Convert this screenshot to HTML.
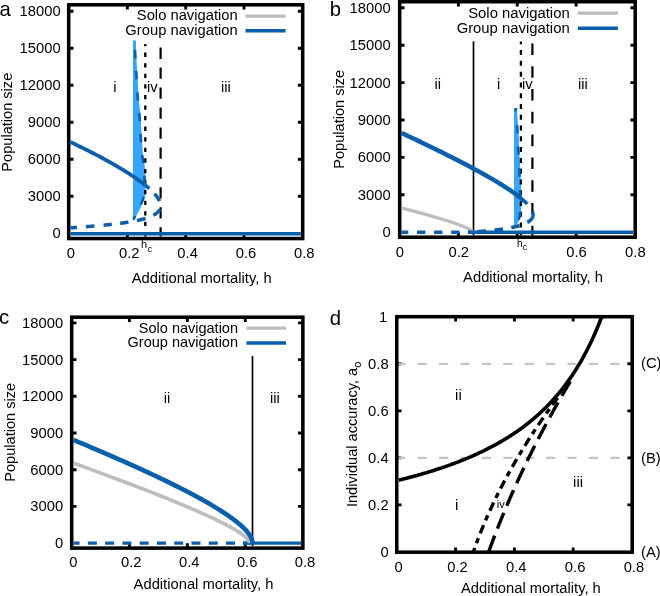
<!DOCTYPE html>
<html><head><meta charset="utf-8"><style>
html,body{margin:0;padding:0;background:#fff;}
svg{display:block;}
text{-webkit-font-smoothing:antialiased;}
text{font-family:"Liberation Sans",sans-serif;fill:#000;}
</style></head><body>
<svg width="660" height="596" viewBox="0 0 660 596" style="will-change:transform">
<rect width="660" height="596" fill="#fff"/>
<rect x="68.70" y="4.80" width="234.00" height="233.75" fill="none" stroke="#000" stroke-width="3.55"/>
<path d="M127.35,238.55 v-4.8 M127.35,4.80 v4.8 M185.70,238.55 v-4.8 M185.70,4.80 v4.8 M244.05,238.55 v-4.8 M244.05,4.80 v4.8 M68.70,196.30 h4.8 M302.70,196.30 h-4.8 M68.70,159.30 h4.8 M302.70,159.30 h-4.8 M68.70,122.30 h4.8 M302.70,122.30 h-4.8 M68.70,85.30 h4.8 M302.70,85.30 h-4.8 M68.70,48.30 h4.8 M302.70,48.30 h-4.8 M68.70,11.30 h4.8 M302.70,11.30 h-4.8 " stroke="#000" stroke-width="2.9" fill="none"/>
<text x="-0.50" y="16.40" font-size="20.3" text-anchor="start" >a</text>
<text x="60.60" y="238.39" font-size="14.75" text-anchor="end" >0</text>
<text x="60.60" y="201.39" font-size="14.75" text-anchor="end" >3000</text>
<text x="60.60" y="164.39" font-size="14.75" text-anchor="end" >6000</text>
<text x="60.60" y="127.39" font-size="14.75" text-anchor="end" >9000</text>
<text x="60.60" y="90.39" font-size="14.75" text-anchor="end" >12000</text>
<text x="60.60" y="53.39" font-size="14.75" text-anchor="end" >15000</text>
<text x="60.60" y="16.39" font-size="14.75" text-anchor="end" >18000</text>
<text x="70.90" y="257.70" font-size="14.75" text-anchor="middle" >0</text>
<text x="129.25" y="257.70" font-size="14.75" text-anchor="middle" >0.2</text>
<text x="187.60" y="257.70" font-size="14.75" text-anchor="middle" >0.4</text>
<text x="245.95" y="257.70" font-size="14.75" text-anchor="middle" >0.6</text>
<text x="304.30" y="257.70" font-size="14.75" text-anchor="middle" >0.8</text>
<text transform="translate(12.2,171.7) rotate(-90)" font-size="14.6">Population size</text>
<text x="131.70" y="282.90" font-size="14.75" text-anchor="start" >Additional mortality, h</text>
<path d="M133.0,40.5 L136.00,40.50 C136.03,42.75 135.97,48.25 136.20,54.00 C136.43,59.75 136.95,67.33 137.40,75.00 C137.85,82.67 138.35,92.75 138.90,100.00 C139.45,107.25 140.08,110.17 140.70,118.50 C141.32,126.83 141.95,142.25 142.60,150.00 C143.25,157.75 144.12,160.33 144.60,165.00 C145.08,169.67 145.35,173.83 145.50,178.00 C145.65,182.17 145.68,186.67 145.50,190.00 C145.32,193.33 145.05,195.47 144.40,198.00 C143.75,200.53 142.90,202.32 141.60,205.20 C140.30,208.08 137.93,212.70 136.60,215.30 C135.27,217.90 134.10,219.88 133.60,220.80 L133.0,220.8 Z" fill="#36a5fc"/>
<path d="M145.3,44 V236.5" stroke="#000" stroke-width="2.3" stroke-dasharray="4.3 6.275" stroke-dashoffset="2"/>
<path d="M160.6,47.6 V236.5" stroke="#000" stroke-width="2.2" stroke-dasharray="11.3 8.66"/>
<path d="M70.5,233.8 H300.9" stroke="#0a5fad" stroke-width="3.6"/>
<path d="M70.30,141.96 L72.09,142.81 L73.87,143.65 L75.62,144.50 L77.36,145.34 L79.08,146.18 L80.78,147.01 L82.47,147.84 L84.13,148.67 L85.78,149.49 L87.41,150.31 L89.02,151.12 L90.62,151.93 L92.20,152.74 L93.75,153.55 L95.29,154.35 L96.82,155.14 L98.32,155.93 L99.81,156.72 L101.28,157.51 L102.73,158.29 L104.16,159.06 L105.58,159.83 L106.97,160.60 L108.35,161.36 L109.71,162.12 L111.06,162.88 L112.38,163.63 L113.69,164.37 L114.98,165.12 L116.25,165.85 L117.50,166.59 L118.74,167.32 L119.95,168.04 L121.15,168.76 L122.33,169.48 L123.50,170.19 L124.64,170.89 L125.77,171.59 L126.88,172.29 L127.97,172.98 L129.05,173.67 L130.10,174.36 L131.14,175.03 L132.16,175.71 L133.16,176.38 L134.14,177.04 L135.11,177.70 L136.06,178.36 L136.99,179.01 L137.90,179.65 L138.79,180.29 L139.67,180.93 L140.53,181.56 L141.37,182.18 L142.19,182.80 L143.00,183.42 L143.78,184.03 L144.55,184.64 L145.30,185.24" stroke="#0a5fad" stroke-width="3.8" fill="none"/>
<path d="M145.30,185.24 L145.82,185.66 L146.34,186.09 L146.84,186.51 L147.34,186.92 L147.82,187.34 L148.30,187.75 L148.77,188.16 L149.23,188.57 L149.67,188.97 L150.12,189.37 L150.55,189.77 L150.97,190.17 L151.38,190.56 L151.79,190.96 L152.18,191.35 L152.57,191.73 L152.95,192.12 L153.31,192.50 L153.67,192.88 L154.02,193.26 L154.36,193.63 L154.70,194.00 L155.02,194.37 L155.33,194.74 L155.64,195.10 L155.93,195.47 L156.22,195.82 L156.50,196.18 L156.77,196.54 L157.02,196.89 L157.27,197.24 L157.52,197.58 L157.75,197.93 L157.97,198.27 L158.18,198.61 L158.39,198.95 L158.59,199.28 L158.77,199.61 L158.95,199.94 L159.12,200.27 L159.28,200.60 L159.43,200.92 L159.57,201.24 L159.70,201.55 L159.82,201.87 L159.94,202.18 L160.04,202.49 L160.14,202.80 L160.23,203.10 L160.30,203.41 L160.37,203.71 L160.43,204.00 L160.48,204.30 L160.52,204.59 L160.56,204.88 L160.58,205.17 L160.59,205.46 L160.60,205.74 L160.60,206.02 L160.58,206.30 L160.56,206.58 L160.53,206.85 L160.49,207.12 L160.44,207.39 L160.38,207.66 L160.31,207.92 L160.24,208.19 L160.15,208.45 L160.06,208.70 L159.95,208.96 L159.84,209.21 L159.72,209.46 L159.59,209.71 L159.45,209.96 L159.30,210.20 L159.14,210.44 L158.97,210.68 L158.80,210.92 L158.61,211.16 L158.42,211.39 L158.22,211.62 L158.00,211.85 L157.78,212.08 L157.55,212.30 L157.31,212.52 L157.06,212.74 L156.80,212.96 L156.54,213.18 L156.26,213.39 L155.98,213.60 L155.68,213.81 L155.38,214.02 L155.07,214.23 L154.74,214.43 L154.41,214.63 L154.07,214.83 L153.73,215.03 L153.37,215.22 L153.00,215.42 L152.63,215.61 L152.24,215.80 L151.85,215.99 L151.44,216.17 L151.03,216.35 L150.61,216.54 L150.18,216.72 L149.74,216.90 L149.29,217.07 L148.83,217.25 L148.37,217.42 L147.89,217.59 L147.41,217.76 L146.91,217.93 L146.41,218.09 L145.90,218.26 L145.38,218.42 L144.85,218.58 L144.31,218.74 L143.76,218.89 L143.20,219.05 L142.64,219.20 L142.06,219.36 L141.48,219.51 L140.88,219.66 L140.28,219.80 L139.67,219.95 L139.05,220.09 L138.42,220.24 L137.78,220.38 L137.13,220.52 L136.47,220.66 L135.81,220.79 L135.13,220.93 L134.45,221.06 L133.75,221.20 L133.05,221.33 L132.34,221.46 L131.62,221.59 L130.89,221.71 L130.15,221.84 L129.40,221.97 L128.65,222.09 L127.88,222.21 L127.10,222.33 L126.32,222.45 L125.53,222.57 L124.72,222.69 L123.91,222.81 L123.09,222.92 L122.26,223.04 L121.42,223.15 L120.58,223.26 L119.72,223.38 L118.85,223.49 L117.98,223.60 L117.09,223.70 L116.20,223.81 L115.30,223.92 L114.39,224.02 L113.47,224.13 L112.54,224.23 L111.60,224.34 L110.65,224.44 L109.70,224.54 L108.73,224.64 L107.76,224.74 L106.77,224.84 L105.78,224.94 L104.78,225.04 L103.77,225.14 L102.75,225.24 L101.72,225.33 L100.68,225.43 L99.63,225.53 L98.58,225.62 L97.51,225.72 L96.44,225.81 L95.35,225.91 L94.26,226.00 L93.16,226.09 L92.05,226.19 L90.93,226.28 L89.80,226.37 L88.66,226.46 L87.51,226.56 L86.36,226.65 L85.19,226.74 L84.02,226.83 L82.83,226.92 L81.64,227.02 L80.44,227.11 L79.23,227.20 L78.01,227.29 L76.78,227.38 L75.54,227.47 L74.30,227.57 L73.04,227.66 L71.77,227.75 L70.50,227.84" stroke="#0a5fad" stroke-width="3.5" fill="none" stroke-dasharray="5.3 7.4 8.8 8.3 9.1 8.4 8.9 8.6 8.4 8.4 8.3 9.2 8.4 9 9 100"/>
<path d="M135.00,40.50 C135.03,42.75 134.97,48.25 135.20,54.00 C135.43,59.75 135.95,67.33 136.40,75.00 C136.85,82.67 137.35,92.75 137.90,100.00 C138.45,107.25 139.08,110.17 139.70,118.50 C140.32,126.83 140.95,142.25 141.60,150.00 C142.25,157.75 143.12,160.33 143.60,165.00 C144.08,169.67 144.35,173.83 144.50,178.00 C144.65,182.17 144.68,186.67 144.50,190.00 C144.32,193.33 144.02,195.58 143.40,198.00 C142.78,200.42 142.03,201.75 140.80,204.50 C139.57,207.25 137.23,212.00 136.00,214.50 C134.77,217.00 133.83,218.67 133.40,219.50" stroke="#0a5fad" stroke-width="2.6" fill="none" stroke-dasharray="8.5 12.5" stroke-dashoffset="11.4"/>
<text x="237.70" y="20.40" font-size="14.75" text-anchor="end" >Solo navigation</text>
<text x="237.70" y="35.30" font-size="14.75" text-anchor="end" >Group navigation</text>
<path d="M245.5,16.1 H285.6" stroke="#bdbdbd" stroke-width="3.3"/>
<path d="M245.5,30.8 H285.6" stroke="#0a5fad" stroke-width="3.5"/>
<text x="113.20" y="91.60" font-size="14.75" text-anchor="start" >i</text>
<text x="146.90" y="91.70" font-size="14.75" text-anchor="start" >iv</text>
<text x="221.00" y="91.70" font-size="14.75" text-anchor="start" >iii</text>
<text x="141.10" y="247.80" font-size="11" text-anchor="start" >h</text>
<text x="147.70" y="251.70" font-size="8.5" text-anchor="start" >c</text>
<rect x="399.70" y="1.70" width="235.50" height="235.50" fill="none" stroke="#000" stroke-width="3.55"/>
<path d="M458.40,237.20 v-4.8 M458.40,1.70 v4.8 M517.25,237.20 v-4.8 M517.25,1.70 v4.8 M576.10,237.20 v-4.8 M576.10,1.70 v4.8 M399.70,194.72 h4.8 M635.20,194.72 h-4.8 M399.70,157.34 h4.8 M635.20,157.34 h-4.8 M399.70,119.96 h4.8 M635.20,119.96 h-4.8 M399.70,82.58 h4.8 M635.20,82.58 h-4.8 M399.70,45.20 h4.8 M635.20,45.20 h-4.8 M399.70,7.82 h4.8 M635.20,7.82 h-4.8 " stroke="#000" stroke-width="2.9" fill="none"/>
<text x="329.80" y="16.40" font-size="20.3" text-anchor="start" >b</text>
<text x="390.60" y="237.19" font-size="14.75" text-anchor="end" >0</text>
<text x="390.60" y="199.81" font-size="14.75" text-anchor="end" >3000</text>
<text x="390.60" y="162.43" font-size="14.75" text-anchor="end" >6000</text>
<text x="390.60" y="125.05" font-size="14.75" text-anchor="end" >9000</text>
<text x="390.60" y="87.67" font-size="14.75" text-anchor="end" >12000</text>
<text x="390.60" y="50.29" font-size="14.75" text-anchor="end" >15000</text>
<text x="390.60" y="12.91" font-size="14.75" text-anchor="end" >18000</text>
<text x="399.95" y="256.80" font-size="14.75" text-anchor="middle" >0</text>
<text x="458.80" y="256.80" font-size="14.75" text-anchor="middle" >0.2</text>
<text x="576.50" y="256.80" font-size="14.75" text-anchor="middle" >0.6</text>
<text x="635.35" y="256.80" font-size="14.75" text-anchor="middle" >0.8</text>
<text transform="translate(343.7,168.8) rotate(-90)" font-size="14.6">Population size</text>
<text x="463.10" y="281.80" font-size="14.75" text-anchor="start" >Additional mortality, h</text>
<path d="M514.0,108.0 L516.80,108.00 C517.10,112.17 518.18,126.00 518.60,133.00 C519.02,140.00 518.93,142.17 519.30,150.00 C519.67,157.83 520.50,170.83 520.80,180.00 C521.10,189.17 521.08,199.17 521.10,205.00 C521.12,210.83 521.20,212.50 520.90,215.00 C520.60,217.50 519.98,218.43 519.30,220.00 C518.62,221.57 517.52,223.53 516.80,224.40 C516.08,225.27 515.30,225.07 515.00,225.20 L514.0,225.2 Z" fill="#36a5fc"/>
<path d="M473.5,41.3 V235.5" stroke="#000" stroke-width="1.7"/>
<path d="M520.9,41.6 V235.5" stroke="#000" stroke-width="2.3" stroke-dasharray="5 5.78" stroke-dashoffset="2.3"/>
<path d="M532.4,43.4 V235.5" stroke="#000" stroke-width="2.2" stroke-dasharray="11.6 11.2"/>
<path d="M401.50,207.92 L402.71,208.23 L403.92,208.55 L405.14,208.87 L406.35,209.19 L407.56,209.51 L408.77,209.83 L409.98,210.15 L411.19,210.47 L412.41,210.79 L413.62,211.12 L414.83,211.44 L416.04,211.77 L417.25,212.10 L418.47,212.43 L419.68,212.76 L420.89,213.09 L422.10,213.42 L423.31,213.76 L424.53,214.10 L425.74,214.43 L426.95,214.77 L428.16,215.11 L429.37,215.46 L430.58,215.80 L431.80,216.15 L433.01,216.50 L434.22,216.85 L435.43,217.20 L436.64,217.56 L437.86,217.91 L439.07,218.27 L440.28,218.64 L441.49,219.00 L442.70,219.37 L443.92,219.74 L445.13,220.12 L446.34,220.49 L447.55,220.88 L448.76,221.26 L449.97,221.65 L451.19,222.05 L452.40,222.45 L453.61,222.86 L454.82,223.27 L456.03,223.69 L457.25,224.11 L458.46,224.55 L459.67,224.99 L460.88,225.45 L462.09,225.91 L463.31,226.40 L464.52,226.90 L465.73,227.42 L466.94,227.96 L468.15,228.55 L469.36,229.18 L470.58,229.89 L471.79,230.76 L473.00,232.54" stroke="#bdbdbd" stroke-width="3.3" fill="none"/>
<path d="M401.5,232.2 H470" stroke="#0a5fad" stroke-width="3.4" stroke-dasharray="8.4 8.67" stroke-dashoffset="1.57"/>
<path d="M468,232.2 H633.4" stroke="#0a5fad" stroke-width="3.4"/>
<path d="M401.50,132.96 L403.81,134.04 L406.10,135.11 L408.37,136.17 L410.61,137.23 L412.84,138.29 L415.05,139.33 L417.23,140.37 L419.40,141.40 L421.55,142.43 L423.67,143.45 L425.77,144.46 L427.86,145.47 L429.92,146.47 L431.97,147.47 L433.99,148.45 L435.99,149.43 L437.97,150.41 L439.93,151.38 L441.87,152.34 L443.79,153.29 L445.69,154.24 L447.57,155.18 L449.43,156.12 L451.27,157.05 L453.09,157.97 L454.89,158.88 L456.67,159.79 L458.42,160.70 L460.16,161.59 L461.87,162.48 L463.57,163.36 L465.24,164.24 L466.90,165.11 L468.53,165.97 L470.15,166.83 L471.74,167.68 L473.31,168.52 L474.87,169.36 L476.40,170.19 L477.91,171.02 L479.40,171.83 L480.87,172.64 L482.32,173.45 L483.75,174.25 L485.16,175.04 L486.55,175.82 L487.92,176.60 L489.26,177.38 L490.59,178.14 L491.90,178.90 L493.18,179.66 L494.45,180.40 L495.70,181.14 L496.92,181.88 L498.13,182.61 L499.31,183.33 L500.47,184.04 L501.62,184.75 L502.74,185.45 L503.84,186.15 L504.92,186.84 L505.98,187.52 L507.03,188.20 L508.05,188.87 L509.05,189.54 L510.03,190.20 L510.99,190.85 L511.92,191.50 L512.84,192.14 L513.74,192.77 L514.62,193.40 L515.47,194.02 L516.31,194.64 L517.13,195.25 L517.92,195.85 L518.70,196.45 L519.45,197.04 L520.19,197.63 L520.90,198.21" stroke="#0a5fad" stroke-width="4.5" fill="none"/>
<path d="M520.90,198.21 L521.29,198.53 L521.67,198.84 L522.04,199.16 L522.41,199.47 L522.77,199.78 L523.13,200.09 L523.48,200.40 L523.82,200.71 L524.16,201.01 L524.49,201.31 L524.81,201.61 L525.13,201.91 L525.44,202.21 L525.75,202.51 L526.04,202.80 L526.34,203.09 L526.62,203.38 L526.90,203.67 L527.18,203.96 L527.44,204.24 L527.71,204.52 L527.96,204.81 L528.21,205.09 L528.45,205.36 L528.69,205.64 L528.92,205.91 L529.14,206.19 L529.36,206.46 L529.57,206.73 L529.77,206.99 L529.97,207.26 L530.16,207.52 L530.35,207.78 L530.53,208.05 L530.70,208.30 L530.87,208.56 L531.03,208.82 L531.18,209.07 L531.33,209.32 L531.47,209.57 L531.61,209.82 L531.74,210.07 L531.86,210.31 L531.98,210.56 L532.09,210.80 L532.19,211.04 L532.29,211.28 L532.38,211.52 L532.47,211.75 L532.54,211.99 L532.62,212.22 L532.68,212.45 L532.74,212.68 L532.80,212.90 L532.84,213.13 L532.89,213.35 L532.92,213.58 L532.95,213.80 L532.97,214.02 L532.99,214.23 L533.00,214.45 L533.00,214.67 L533.00,214.88 L532.99,215.09 L532.97,215.30 L532.95,215.51 L532.92,215.72 L532.89,215.92 L532.85,216.12 L532.80,216.33 L532.75,216.53 L532.69,216.73 L532.62,216.92 L532.55,217.12 L532.47,217.32 L532.39,217.51 L532.30,217.70 L532.20,217.89 L532.09,218.08 L531.98,218.27 L531.87,218.45 L531.75,218.64 L531.62,218.82 L531.48,219.00 L531.34,219.18 L531.19,219.36 L531.04,219.54 L530.88,219.71 L530.71,219.89 L530.54,220.06 L530.36,220.23 L530.18,220.40 L529.98,220.57 L529.79,220.74 L529.58,220.90 L529.37,221.07 L529.15,221.23 L528.93,221.39 L528.70,221.55 L528.47,221.71 L528.22,221.87 L527.98,222.03 L527.72,222.18 L527.46,222.34 L527.19,222.49 L526.92,222.64 L526.64,222.79 L526.35,222.94 L526.06,223.09 L525.76,223.23 L525.46,223.38 L525.15,223.52 L524.83,223.66 L524.51,223.80 L524.18,223.94 L523.84,224.08 L523.50,224.22 L523.15,224.35 L522.79,224.49 L522.43,224.62 L522.06,224.75 L521.69,224.89 L521.31,225.02 L520.92,225.14 L520.53,225.27 L520.13,225.40 L519.73,225.52 L519.31,225.65 L518.90,225.77 L518.47,225.89 L518.04,226.01 L517.60,226.13 L517.16,226.25 L516.71,226.37 L516.25,226.48 L515.79,226.60 L515.32,226.71 L514.85,226.83 L514.37,226.94 L513.88,227.05 L513.39,227.16 L512.89,227.27 L512.38,227.37 L511.87,227.48 L511.35,227.59 L510.83,227.69 L510.29,227.80 L509.76,227.90 L509.21,228.00 L508.66,228.10 L508.11,228.20 L507.54,228.30 L506.97,228.40 L506.40,228.49 L505.82,228.59 L505.23,228.68 L504.64,228.78 L504.03,228.87 L503.43,228.96 L502.82,229.05 L502.20,229.14 L501.57,229.23 L500.94,229.32 L500.30,229.41 L499.66,229.49 L499.00,229.58 L498.35,229.67 L497.68,229.75 L497.01,229.83 L496.34,229.92 L495.66,230.00 L494.97,230.08 L494.27,230.16 L493.57,230.24 L492.86,230.32 L492.15,230.39 L491.43,230.47 L490.70,230.55 L489.97,230.62 L489.23,230.70 L488.49,230.77 L487.74,230.84 L486.98,230.92 L486.21,230.99 L485.44,231.06 L484.67,231.13 L483.89,231.20 L483.10,231.27 L482.30,231.34 L481.50,231.41 L480.69,231.47 L479.88,231.54 L479.06,231.61 L478.23,231.67 L477.40,231.74 L476.56,231.80 L475.71,231.87 L474.86,231.93 L474.00,231.99" stroke="#0a5fad" stroke-width="3.6" fill="none" stroke-dasharray="8.7 8.7 13.7 8.3 8.6 8.5 8.5 8.5 8.5 8.5 8.5 100"/>
<path d="M515.80,108.00 C516.10,112.17 517.18,126.00 517.60,133.00 C518.02,140.00 517.93,142.17 518.30,150.00 C518.67,157.83 519.50,170.83 519.80,180.00 C520.10,189.17 520.08,199.17 520.10,205.00 C520.12,210.83 520.20,212.50 519.90,215.00 C519.60,217.50 518.98,218.43 518.30,220.00 C517.62,221.57 516.22,223.67 515.80,224.40" stroke="#0a5fad" stroke-width="2.5" fill="none" stroke-dasharray="8.1 13.6" stroke-dashoffset="4.6"/>
<text x="569.70" y="18.20" font-size="14.85" text-anchor="end" >Solo navigation</text>
<text x="569.70" y="32.60" font-size="14.85" text-anchor="end" >Group navigation</text>
<path d="M577.9,13.1 H617.9" stroke="#bdbdbd" stroke-width="3.3"/>
<path d="M577.9,28.2 H617.9" stroke="#0a5fad" stroke-width="3.5"/>
<text x="434.50" y="88.60" font-size="14.75" text-anchor="start" >ii</text>
<text x="497.00" y="88.60" font-size="14.75" text-anchor="start" >i</text>
<text x="522.00" y="88.60" font-size="14.75" text-anchor="start" >iv</text>
<text x="578.00" y="88.60" font-size="14.75" text-anchor="start" >iii</text>
<text x="517.10" y="246.80" font-size="10" text-anchor="start" >h</text>
<text x="522.50" y="249.90" font-size="9" text-anchor="start" >c</text>
<rect x="71.70" y="317.20" width="231.15" height="230.90" fill="none" stroke="#000" stroke-width="3.55"/>
<path d="M129.42,548.10 v-4.8 M129.42,317.20 v4.8 M187.34,548.10 v-4.8 M187.34,317.20 v4.8 M245.26,548.10 v-4.8 M245.26,317.20 v4.8 M71.70,506.40 h4.8 M302.85,506.40 h-4.8 M71.70,469.70 h4.8 M302.85,469.70 h-4.8 M71.70,433.00 h4.8 M302.85,433.00 h-4.8 M71.70,396.30 h4.8 M302.85,396.30 h-4.8 M71.70,359.60 h4.8 M302.85,359.60 h-4.8 M71.70,322.90 h4.8 M302.85,322.90 h-4.8 " stroke="#000" stroke-width="2.9" fill="none"/>
<text x="-1.00" y="324.10" font-size="20.3" text-anchor="start" >c</text>
<text x="63.10" y="548.19" font-size="14.75" text-anchor="end" >0</text>
<text x="63.10" y="511.49" font-size="14.75" text-anchor="end" >3000</text>
<text x="63.10" y="474.79" font-size="14.75" text-anchor="end" >6000</text>
<text x="63.10" y="438.09" font-size="14.75" text-anchor="end" >9000</text>
<text x="63.10" y="401.39" font-size="14.75" text-anchor="end" >12000</text>
<text x="63.10" y="364.69" font-size="14.75" text-anchor="end" >15000</text>
<text x="63.10" y="327.99" font-size="14.75" text-anchor="end" >18000</text>
<text x="73.40" y="567.20" font-size="14.75" text-anchor="middle" >0</text>
<text x="131.32" y="567.20" font-size="14.75" text-anchor="middle" >0.2</text>
<text x="189.24" y="567.20" font-size="14.75" text-anchor="middle" >0.4</text>
<text x="247.16" y="567.20" font-size="14.75" text-anchor="middle" >0.6</text>
<text x="305.08" y="567.20" font-size="14.75" text-anchor="middle" >0.8</text>
<text transform="translate(15.1,481.8) rotate(-90)" font-size="14.6">Population size</text>
<text x="133.60" y="588.60" font-size="14.75" text-anchor="start" >Additional mortality, h</text>
<path d="M252.5,356.1 V546" stroke="#000" stroke-width="1.7"/>
<path d="M73.6,543.1 H251" stroke="#0a5fad" stroke-width="3.4" stroke-dasharray="9 8.27" stroke-dashoffset="3"/>
<path d="M243,543.1 H301.2" stroke="#0a5fad" stroke-width="3.4"/>
<path d="M73.50,463.17 L77.87,464.75 L82.19,466.31 L86.45,467.86 L90.66,469.39 L94.81,470.91 L98.91,472.41 L102.95,473.90 L106.94,475.37 L110.87,476.83 L114.75,478.27 L118.57,479.70 L122.34,481.12 L126.05,482.52 L129.71,483.90 L133.31,485.27 L136.86,486.63 L140.35,487.97 L143.79,489.30 L147.17,490.61 L150.50,491.91 L153.77,493.19 L156.99,494.46 L160.15,495.72 L163.26,496.96 L166.31,498.18 L169.31,499.39 L172.25,500.59 L175.14,501.77 L177.97,502.94 L180.75,504.09 L183.47,505.23 L186.14,506.35 L188.75,507.46 L191.31,508.55 L193.81,509.63 L196.26,510.70 L198.65,511.75 L200.99,512.78 L203.27,513.80 L205.50,514.81 L207.67,515.80 L209.79,516.78 L211.85,517.74 L213.86,518.69 L215.81,519.62 L217.71,520.54 L219.55,521.45 L221.34,522.34 L223.07,523.21 L224.75,524.07 L226.37,524.92 L227.94,525.75 L229.45,526.57 L230.91,527.37 L232.31,528.15 L233.66,528.93 L234.95,529.69 L236.19,530.43 L237.37,531.16 L238.50,531.87 L239.57,532.57 L240.59,533.26 L241.55,533.93 L242.46,534.59 L243.31,535.23 L244.11,535.85 L244.85,536.47 L245.54,537.06 L246.17,537.65 L246.75,538.22 L247.27,538.77 L247.74,539.31 L248.15,539.83 L248.51,540.34 L248.81,540.84 L249.06,541.32 L249.25,541.79 L249.39,542.24 L249.47,542.68 L249.50,543.10" stroke="#bdbdbd" stroke-width="3.6" fill="none"/>
<path d="M73.50,439.99 L77.95,441.84 L82.34,443.67 L86.67,445.49 L90.95,447.29 L95.18,449.08 L99.34,450.86 L103.45,452.62 L107.51,454.36 L111.51,456.10 L115.45,457.82 L119.34,459.52 L123.17,461.21 L126.95,462.89 L130.67,464.55 L134.33,466.20 L137.94,467.83 L141.49,469.45 L144.99,471.06 L148.43,472.65 L151.81,474.23 L155.14,475.79 L158.41,477.34 L161.63,478.88 L164.79,480.40 L167.89,481.91 L170.94,483.40 L173.94,484.88 L176.87,486.34 L179.75,487.79 L182.58,489.23 L185.35,490.65 L188.06,492.06 L190.72,493.46 L193.32,494.84 L195.86,496.20 L198.35,497.56 L200.79,498.89 L203.16,500.22 L205.48,501.53 L207.75,502.82 L209.96,504.11 L212.11,505.37 L214.21,506.63 L216.25,507.87 L218.24,509.09 L220.17,510.30 L222.04,511.50 L223.86,512.68 L225.62,513.85 L227.33,515.01 L228.98,516.15 L230.57,517.27 L232.11,518.39 L233.59,519.49 L235.02,520.57 L236.39,521.64 L237.70,522.70 L238.96,523.74 L240.17,524.77 L241.31,525.78 L242.40,526.78 L243.44,527.77 L244.42,528.74 L245.34,529.70 L246.21,530.64 L247.02,531.57 L247.77,532.48 L248.47,533.39 L249.12,534.27 L249.70,535.15 L250.23,536.00 L250.71,536.85 L251.13,537.68 L251.49,538.50 L251.80,539.30 L252.05,540.09 L252.25,540.86 L252.39,541.62 L252.47,542.37 L252.50,543.10" stroke="#0a5fad" stroke-width="4.6" fill="none"/>
<text x="238.00" y="332.80" font-size="14.5" text-anchor="end" >Solo navigation</text>
<text x="238.00" y="347.20" font-size="14.5" text-anchor="end" >Group navigation</text>
<path d="M246.4,328.1 H286" stroke="#bdbdbd" stroke-width="3.3"/>
<path d="M246.4,342.9 H286" stroke="#0a5fad" stroke-width="3.5"/>
<text x="163.80" y="402.90" font-size="14.75" text-anchor="start" >ii</text>
<text x="269.90" y="402.80" font-size="14.75" text-anchor="start" >iii</text>
<rect x="396.75" y="316.70" width="235.45" height="235.50" fill="none" stroke="#000" stroke-width="3.55"/>
<path d="M455.60,552.20 v-4.8 M455.60,316.70 v4.8 M514.40,552.20 v-4.8 M514.40,316.70 v4.8 M573.20,552.20 v-4.8 M573.20,316.70 v4.8 M396.75,504.88 h4.8 M632.20,504.88 h-4.8 M396.75,457.86 h4.8 M632.20,457.86 h-4.8 M396.75,410.84 h4.8 M632.20,410.84 h-4.8 M396.75,363.82 h4.8 M632.20,363.82 h-4.8 " stroke="#000" stroke-width="2.9" fill="none"/>
<text x="329.80" y="325.20" font-size="20.3" text-anchor="start" >d</text>
<text x="388.60" y="556.99" font-size="14.75" text-anchor="end" >0</text>
<text x="388.60" y="509.97" font-size="14.75" text-anchor="end" >0.2</text>
<text x="388.60" y="462.95" font-size="14.75" text-anchor="end" >0.4</text>
<text x="388.60" y="415.93" font-size="14.75" text-anchor="end" >0.6</text>
<text x="388.60" y="368.91" font-size="14.75" text-anchor="end" >0.8</text>
<text x="387.30" y="321.89" font-size="14.75" text-anchor="end" >1</text>
<text x="398.70" y="571.60" font-size="14.75" text-anchor="middle" >0</text>
<text x="457.50" y="571.60" font-size="14.75" text-anchor="middle" >0.2</text>
<text x="516.30" y="571.60" font-size="14.75" text-anchor="middle" >0.4</text>
<text x="575.10" y="571.60" font-size="14.75" text-anchor="middle" >0.6</text>
<text x="633.90" y="571.60" font-size="14.75" text-anchor="middle" >0.8</text>
<text transform="translate(356.7,507.1) rotate(-90)" font-size="14.6">Individual accuracy, a<tspan font-size="11.2" dy="3.9">o</tspan></text>
<text x="460.90" y="592.50" font-size="14.75" text-anchor="start" >Additional mortality, h</text>
<path d="M398.7,457.86 H630.4" stroke="#c4c4c4" stroke-width="2.2" stroke-dasharray="9.1 12.3" stroke-dashoffset="2.4"/>
<path d="M398.7,363.82 H630.4" stroke="#c4c4c4" stroke-width="2.2" stroke-dasharray="9.1 12.3" stroke-dashoffset="2.4"/>
<path d="M398.71,480.20 L400.17,479.84 L401.62,479.48 L403.07,479.11 L404.53,478.74 L405.98,478.37 L407.44,477.99 L408.89,477.61 L410.35,477.22 L411.80,476.84 L413.25,476.44 L414.71,476.04 L416.16,475.64 L417.62,475.24 L419.07,474.83 L420.52,474.41 L421.98,473.99 L423.43,473.57 L424.89,473.14 L426.34,472.71 L427.80,472.27 L429.25,471.83 L430.70,471.38 L432.16,470.93 L433.61,470.47 L435.07,470.01 L436.52,469.54 L437.98,469.06 L439.43,468.58 L440.88,468.10 L442.34,467.61 L443.79,467.11 L445.25,466.61 L446.70,466.10 L448.16,465.59 L449.61,465.07 L451.06,464.54 L452.52,464.01 L453.97,463.47 L455.43,462.92 L456.88,462.37 L458.34,461.81 L459.79,461.24 L461.24,460.67 L462.70,460.09 L464.15,459.50 L465.61,458.90 L467.06,458.29 L468.51,457.68 L469.97,457.06 L471.42,456.43 L472.88,455.80 L474.33,455.15 L475.79,454.50 L477.24,453.83 L478.69,453.16 L480.15,452.48 L481.60,451.79 L483.06,451.09 L484.51,450.38 L485.97,449.66 L487.42,448.92 L488.87,448.18 L490.33,447.43 L491.78,446.67 L493.24,445.89 L494.69,445.11 L496.15,444.31 L497.60,443.50 L499.05,442.68 L500.51,441.84 L501.96,440.99 L503.42,440.13 L504.87,439.26 L506.33,438.37 L507.78,437.47 L509.23,436.55 L510.69,435.62 L512.14,434.67 L513.60,433.71 L515.05,432.73 L516.51,431.74 L517.96,430.73 L519.41,429.70 L520.87,428.66 L522.32,427.59 L523.78,426.51 L525.23,425.41 L526.68,424.29 L528.14,423.15 L529.59,421.98 L531.05,420.80 L532.50,419.60 L533.96,418.37 L535.41,417.12 L536.86,415.85 L538.32,414.55 L539.77,413.23 L541.23,411.88 L542.68,410.51 L544.14,409.10 L545.59,407.67 L547.04,406.21 L548.50,404.73 L549.95,403.21 L551.41,401.65 L552.86,400.07 L554.32,398.45 L555.77,396.80 L557.22,395.11 L558.68,393.39 L560.13,391.62 L561.59,389.82 L563.04,387.97 L564.50,386.09 L565.95,384.15 L567.40,382.18 L568.86,380.15 L570.31,378.08 L571.77,375.96 L573.22,373.78 L574.68,371.55 L576.13,369.26 L577.58,366.92 L579.04,364.51 L580.49,362.04 L581.95,359.50 L583.40,356.90 L584.86,354.22 L586.31,351.47 L587.76,348.64 L589.22,345.73 L590.67,342.74 L592.13,339.65 L593.58,336.48 L595.03,333.21 L596.49,329.83 L597.94,326.36 L599.40,322.77 L600.85,319.06 L602.31,316.00" stroke="#000" stroke-width="3.6" fill="none"/>
<path d="M473.39,551.90 L473.84,550.61 L474.29,549.31 L474.75,548.02 L475.21,546.73 L475.68,545.43 L476.15,544.14 L476.63,542.85 L477.11,541.56 L477.59,540.26 L478.08,538.97 L478.58,537.68 L479.08,536.38 L479.58,535.09 L480.08,533.80 L480.59,532.50 L481.11,531.21 L481.63,529.92 L482.15,528.63 L482.68,527.33 L483.21,526.04 L483.75,524.75 L484.29,523.45 L484.84,522.16 L485.39,520.87 L485.94,519.57 L486.50,518.28 L487.07,516.99 L487.63,515.69 L488.21,514.40 L488.78,513.11 L489.36,511.82 L489.95,510.52 L490.54,509.23 L491.13,507.94 L491.73,506.64 L492.33,505.35 L492.94,504.06 L493.55,502.76 L494.16,501.47 L494.78,500.18 L495.41,498.88 L496.03,497.59 L496.67,496.30 L497.30,495.01 L497.95,493.71 L498.59,492.42 L499.24,491.13 L499.90,489.83 L500.56,488.54 L501.22,487.25 L501.89,485.95 L502.56,484.66 L503.23,483.37 L503.91,482.08 L504.60,480.78 L505.29,479.49 L505.98,478.20 L506.68,476.90 L507.38,475.61 L508.09,474.32 L508.80,473.02 L509.52,471.73 L510.24,470.44 L510.96,469.14 L511.69,467.85 L512.42,466.56 L513.16,465.27 L513.90,463.97 L514.65,462.68 L515.40,461.39 L516.15,460.09 L516.91,458.80 L517.67,457.51 L518.44,456.21 L519.21,454.92 L519.99,453.63 L520.77,452.34 L521.55,451.04 L522.34,449.75 L523.14,448.46 L523.93,447.16 L524.74,445.87 L525.54,444.58 L526.35,443.28 L527.17,441.99 L527.99,440.70 L528.81,439.40 L529.64,438.11 L530.47,436.82 L531.31,435.53 L532.15,434.23 L533.00,432.94 L533.85,431.65 L534.70,430.35 L535.56,429.06 L536.43,427.77 L537.29,426.47 L538.17,425.18 L539.04,423.89 L539.92,422.59 L540.81,421.30 L541.70,420.01 L542.59,418.72 L543.49,417.42 L544.39,416.13 L545.30,414.84 L546.21,413.54 L547.12,412.25 L548.04,410.96 L548.97,409.66 L549.90,408.37 L550.83,407.08 L551.77,405.79 L552.71,404.49 L553.65,403.20 L554.60,401.91 L555.56,400.61 L556.52,399.32 L557.48,398.03 L558.45,396.73" stroke="#000" stroke-width="3.4" fill="none" stroke-dasharray="9 5.05 5.5 5.05" stroke-dashoffset="-44.35"/>
<path d="M488.68,551.90 L489.19,550.48 L489.70,549.06 L490.22,547.64 L490.74,546.22 L491.27,544.80 L491.79,543.38 L492.32,541.96 L492.85,540.54 L493.39,539.12 L493.93,537.70 L494.47,536.28 L495.01,534.86 L495.56,533.43 L496.11,532.01 L496.66,530.59 L497.21,529.17 L497.77,527.75 L498.33,526.33 L498.90,524.91 L499.46,523.49 L500.03,522.07 L500.60,520.65 L501.18,519.23 L501.75,517.81 L502.33,516.39 L502.92,514.97 L503.50,513.55 L504.09,512.13 L504.68,510.71 L505.28,509.29 L505.87,507.87 L506.47,506.45 L507.08,505.03 L507.68,503.61 L508.29,502.19 L508.90,500.77 L509.52,499.35 L510.13,497.92 L510.75,496.50 L511.37,495.08 L512.00,493.66 L512.63,492.24 L513.26,490.82 L513.89,489.40 L514.53,487.98 L515.17,486.56 L515.81,485.14 L516.45,483.72 L517.10,482.30 L517.75,480.88 L518.41,479.46 L519.06,478.04 L519.72,476.62 L520.38,475.20 L521.05,473.78 L521.71,472.36 L522.38,470.94 L523.06,469.52 L523.73,468.10 L524.41,466.68 L525.09,465.26 L525.78,463.84 L526.46,462.42 L527.15,460.99 L527.85,459.57 L528.54,458.15 L529.24,456.73 L529.94,455.31 L530.65,453.89 L531.35,452.47 L532.06,451.05 L532.78,449.63 L533.49,448.21 L534.21,446.79 L534.93,445.37 L535.65,443.95 L536.38,442.53 L537.11,441.11 L537.84,439.69 L538.58,438.27 L539.31,436.85 L540.05,435.43 L540.80,434.01 L541.54,432.59 L542.29,431.17 L543.04,429.75 L543.80,428.33 L544.56,426.91 L545.32,425.48 L546.08,424.06 L546.85,422.64 L547.61,421.22 L548.39,419.80 L549.16,418.38 L549.94,416.96 L550.72,415.54 L551.50,414.12 L552.28,412.70 L553.07,411.28 L553.86,409.86 L554.66,408.44 L555.46,407.02 L556.25,405.60 L557.06,404.18 L557.86,402.76 L558.67,401.34 L559.48,399.92 L560.30,398.50 L561.11,397.08 L561.93,395.66 L562.75,394.24 L563.58,392.82 L564.41,391.40 L565.24,389.97 L566.07,388.55 L566.91,387.13 L567.75,385.71 L568.59,384.29 L569.43,382.87 L570.28,381.45" stroke="#000" stroke-width="3.4" fill="none" stroke-dasharray="17 7.6" stroke-dashoffset="-24.95"/>
<text x="455.10" y="399.50" font-size="15" text-anchor="start" >ii</text>
<text x="455.10" y="509.90" font-size="15" text-anchor="start" >i</text>
<text x="496.70" y="508.30" font-size="11" text-anchor="start" >iv</text>
<text x="573.10" y="486.70" font-size="15" text-anchor="start" >iii</text>
<text x="641.00" y="368.20" font-size="14.75" text-anchor="start" >(C)</text>
<text x="641.00" y="462.80" font-size="14.75" text-anchor="start" >(B)</text>
<text x="641.00" y="557.00" font-size="14.75" text-anchor="start" >(A)</text>
</svg></body></html>
